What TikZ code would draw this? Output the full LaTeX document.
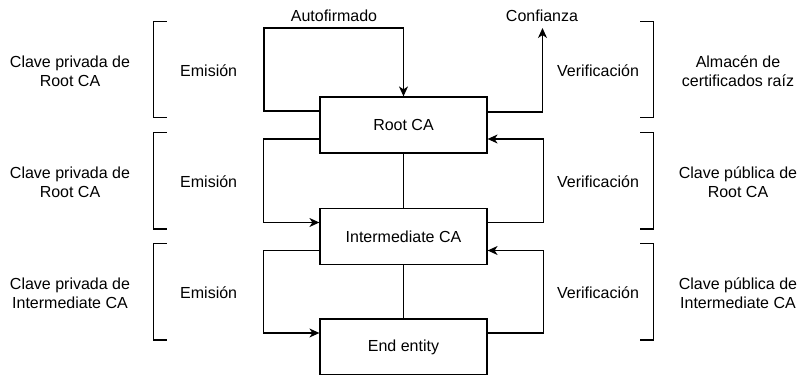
\documentclass[tikz,border=0pt]{standalone}
\usepackage{fontspec}
\setmainfont{Liberation Sans}
\usetikzlibrary{arrows.meta}
\begin{document}
\begin{tikzpicture}[x=1pt,y=-1pt,
  every node/.style={font=\fontsize{16}{19}\selectfont, align=center, inner sep=0pt},
  ca/.style={draw, line width=1.2pt, minimum width=167pt, minimum height=56pt},
  arr/.style={line width=1.2pt, -{Stealth[length=10pt,width=9pt,inset=3pt]}},
  ln/.style={line width=1.2pt},
  brk/.style={line width=1.2pt}]
\useasboundingbox (0,0) rectangle (801,375);
% boxes
\node[ca] (root) at (403.5,125) {Root CA};
\node[ca] (int) at (403.5,236.5) {Intermediate CA};
\node[ca] (end) at (403.5,347) {End entity};
% helper coordinates
\coordinate (conf) at (542.5,28);
% self-signed loop
\draw[arr] ([yshift=14pt]root.west) -| (264,28) -| (root.north);
\node (auto) at (334,16) {Autofirmado};
% trust
\draw[arr] ([yshift=13pt]root.east) -| (conf);
\node (confl) at (542,16) {Confianza};
% issuance left
\draw[arr] ([yshift=-14pt]root.west) -- ++(-56,0) |- ([yshift=14pt]int.west);
\draw[arr] ([yshift=-14pt]int.west) -- ++(-56,0) |- ([yshift=14pt]end.west);
% verification right
\draw[arr] ([yshift=14pt]int.east) -- ++(55.5,0) |- ([yshift=-14pt]root.east);
\draw[arr] ([yshift=14pt]end.east) -- ++(55.5,0) |- ([yshift=-14pt]int.east);
% vertical links
\draw[ln] (root.south) -- (int.north);
\draw[ln] (int.south) -- (end.north);
% left brackets
\draw[brk] (166.7,21.7) -- (153.3,21.7) -- (153.3,117.7) -- (166.7,117.7);
\draw[brk] (166.7,132.3) -- (153.3,132.3) -- (153.3,229) -- (166.7,229);
\draw[brk] (166.7,243.3) -- (153.3,243.3) -- (153.3,340) -- (166.7,340);
% right brackets
\draw[brk] (640,21.7) -- (653.3,21.7) -- (653.3,117.7) -- (640,117.7);
\draw[brk] (640,132.3) -- (653.3,132.3) -- (653.3,229) -- (640,229);
\draw[brk] (640,243.3) -- (653.3,243.3) -- (653.3,340) -- (640,340);
% labels
\node (e1) at (208.7,71) {Emisión};
\node (e2) at (208.7,182) {Emisión};
\node (e3) at (208.7,293) {Emisión};
\node (v1) at (598,71) {Verificación};
\node (v2) at (598,182) {Verificación};
\node (v3) at (598,293) {Verificación};
\node (l1) at (70,71) {Clave privada de\\Root CA};
\node (l2) at (70,182) {Clave privada de\\Root CA};
\node (l3) at (70,293) {Clave privada de\\Intermediate CA};
\node (r1) at (738,71) {Almacén de\\certificados raíz};
\node (r2) at (738,182) {Clave pública de\\Root CA};
\node (r3) at (738,293) {Clave pública de\\Intermediate CA};
\end{tikzpicture}
\end{document}
